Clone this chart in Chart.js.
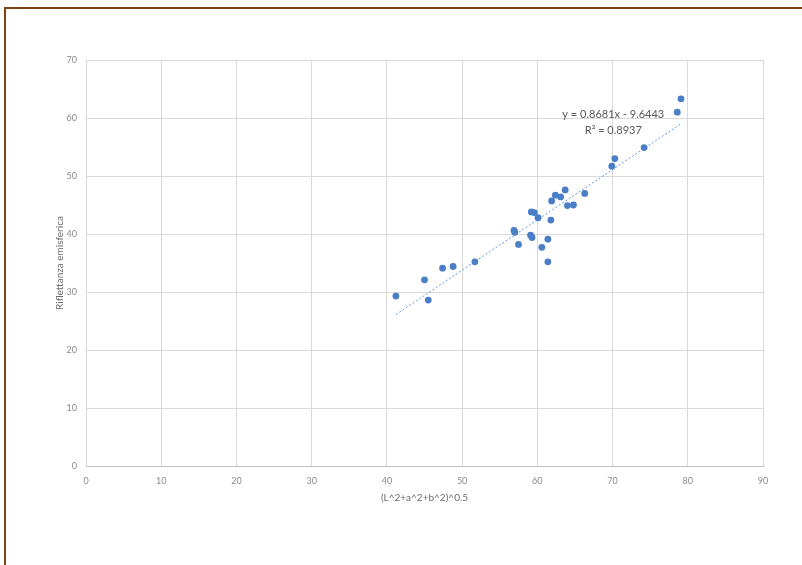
<!DOCTYPE html>
<html>
<head>
<meta charset="utf-8">
<script src="https://cdn.jsdelivr.net/npm/chart.js@4/dist/chart.umd.min.js"></script>
<style>
  html, body { margin: 0; padding: 0; background: #fff; overflow: hidden; width: 802px; height: 565px; }
  #frame { position: absolute; left: 4px; top: 7px; width: 900px; height: 700px; border: 2px solid #7b4313; box-sizing: border-box; }
  #chart { position: absolute; left: 0; top: 0; }
</style>
</head>
<body>
<div id="frame"></div>
<canvas id="chart" width="802" height="565"></canvas>
<script>
// Colour magnitude (L^2+a^2+b^2)^0.5 against hemispherical reflectance, one point per sample
const magnitude = [41.2, 45.0, 45.5, 47.4, 48.8, 51.7, 56.9, 57.0, 57.5, 59.2, 59.6, 59.1, 59.3, 60.1,
                   60.6, 61.4, 61.4, 61.8, 61.9, 62.4, 63.1, 63.7, 64.0, 64.8, 66.3, 69.9, 70.3, 74.2,
                   78.6, 79.1];
const reflectance = [29.3, 32.1, 28.6, 34.1, 34.4, 35.2, 40.6, 40.3, 38.2, 43.8, 43.7, 39.8, 39.4, 42.8,
                     37.7, 39.1, 35.2, 42.4, 45.7, 46.7, 46.4, 47.6, 44.9, 45.0, 47.0, 51.7, 53.0, 54.9,
                     61.0, 63.3];

// Axis ticks
const xTickValues = [0, 10, 20, 30, 40, 50, 60, 70, 80, 90];
const yTickValues = [0, 10, 20, 30, 40, 50, 60, 70];

// Linear trend line and its fit statistics
const trendSlope = 0.8681;
const trendIntercept = -9.6443;
const rSquared = 0.8937;

const xTitle = '(L^2+a^2+b^2)^0.5';
const yTitle = 'Riflettanza emisferica';

const xMin = Math.min(...magnitude);
const xMax = Math.max(...magnitude);
const trendPoints = [xMin, xMax].map(x => ({ x, y: trendSlope * x + trendIntercept }));
const points = magnitude.map((x, i) => ({ x, y: reflectance[i] }));

const equationLines = [
  'y = ' + trendSlope.toFixed(4) + 'x - ' + Math.abs(trendIntercept).toFixed(4),
  'R\u00B2 = ' + rSquared.toFixed(4)
];

const FONT = 'Lato, "Open Sans", sans-serif';
const TEXT = '#8a8a8a';
const GRID = '#d9d9d9';

// Equation label beside the upper end of the trend line
const equationLabel = {
  id: 'equationLabel',
  afterDatasetsDraw(chart) {
    const { ctx, scales: { x, y } } = chart;
    const cx = x.getPixelForValue(70.1);
    const cy = y.getPixelForValue(60.6);
    ctx.save();
    ctx.font = '11px ' + FONT;
    ctx.fillStyle = '#595959';
    ctx.textAlign = 'center';
    ctx.textBaseline = 'middle';
    ctx.fillText(equationLines[0], cx, cy);
    ctx.fillText(equationLines[1], cx, cy + 16);
    ctx.restore();
  }
};

new Chart(document.getElementById('chart'), {
  type: 'scatter',
  data: {
    datasets: [
      {
        type: 'line',
        data: trendPoints,
        borderColor: '#5b9bd5',
        borderWidth: 1,
        borderDash: [2, 2],
        pointRadius: 0,
        fill: false,
        order: 2
      },
      {
        data: points,
        backgroundColor: '#4a7ec6',
        borderColor: '#4a7ec6',
        pointRadius: 3.4,
        pointBorderWidth: 0,
        order: 1
      }
    ]
  },
  options: {
    responsive: false,
    animation: false,
    devicePixelRatio: 1,
    layout: { padding: { left: 0, right: 39, top: 60, bottom: 0 } },
    plugins: { legend: { display: false }, tooltip: { enabled: false } },
    scales: {
      x: {
        type: 'linear',
        min: 0, max: 90,
        afterBuildTicks: s => { s.ticks = xTickValues.map(v => ({ value: v })); },
        afterFit: s => { s.height = 99; },
        grid: { color: GRID, lineWidth: 1, drawTicks: false },
        border: { display: true, color: '#bfbfbf', width: 1 },
        ticks: { color: TEXT, font: { family: FONT, size: 9 }, padding: 10, maxRotation: 0 },
        title: { display: true, text: xTitle, color: '#6b6b6b', font: { family: FONT, size: 10 },
                 padding: { top: 0, bottom: 61 } }
      },
      y: {
        type: 'linear',
        min: 0, max: 70,
        afterBuildTicks: s => { s.ticks = yTickValues.map(v => ({ value: v })); },
        afterFit: s => { s.width = 86; },
        grid: { color: GRID, lineWidth: 1, drawTicks: false },
        border: { display: true, color: GRID, width: 1 },
        ticks: { color: TEXT, font: { family: FONT, size: 9 }, padding: 9 },
        title: { display: true, text: yTitle, color: '#6b6b6b', font: { family: FONT, size: 10 },
                 padding: { top: 54, bottom: 0 } }
      }
    }
  },
  plugins: [equationLabel]
});
</script>
</body>
</html>
